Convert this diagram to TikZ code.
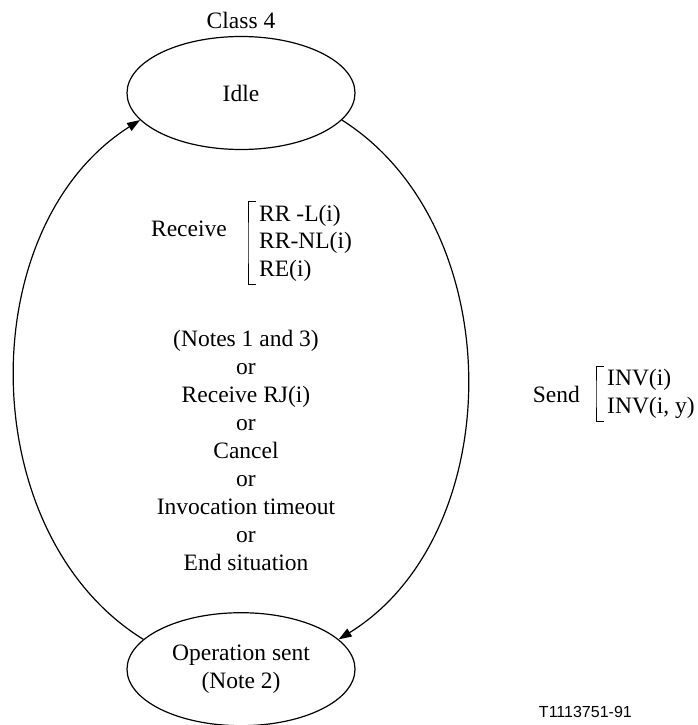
\documentclass[tikz,border=0pt]{standalone}
\usepackage{fontspec}
\setmainfont{Liberation Serif}
\newfontfamily\tagfont{Liberation Sans}
\usetikzlibrary{positioning,arrows.meta,shapes.geometric}

\begin{document}
\begin{tikzpicture}
      [ x=1pt, y=-1pt,
        >={Triangle[length=13pt,width=9pt]},
        every node/.style={font=\fontsize{23.5}{27.6}\selectfont},
        state/.style={ellipse, draw, line width=1.2pt,
                      minimum width=228pt, minimum height=113pt, inner sep=0pt},
        txt/.style={inner sep=0pt},
        bracket/.style={line width=0.8pt},
        trans/.style={->, line width=1.2pt}
      ]
      \useasboundingbox (0,0) rectangle (697,725);

      \node[state]            (idle)   at (241,93)             {Idle};
      \node[state,align=center] (sent) [below=462pt of idle]   {Operation sent\\(Note 2)};
      \node[txt]              (class)  [above=7pt of idle]     {Class 4};

      % receive conditions inside the loop
      \node[txt,align=left,anchor=west] (rlist) at (259,243) {RR -L(i)\\RR-NL(i)\\RE(i)};
      \node[txt]              (recv)   [left=32pt of rlist, yshift=14pt] {Receive};
      \node[txt,align=center,font=\fontsize{23.5}{28}\selectfont]
                              (notes)  at (246,450)
            {(Notes 1 and 3)\\or\\Receive RJ(i)\\or\\Cancel\\or\\Invocation timeout\\or\\End situation};

      % send primitives outside the loop
      \node[txt,align=left,anchor=west] (slist) at (607,394) {INV(i)\\INV(i, y)};
      \node[txt]              (send)   [left=27pt of slist]    {Send};

      \node[txt,anchor=east,font=\tagfont\fontsize{16}{19}\selectfont]
                              (fig)    at (632,712)            {T1113751-91};

      \draw[bracket] ([xshift=-3pt,yshift=3pt]rlist.north west) -| ([xshift=-11pt]rlist.west)
                     |- ([xshift=-3pt,yshift=-3pt]rlist.south west);
      \draw[bracket] ([xshift=-3pt,yshift=3pt]slist.north west) -| ([xshift=-11pt]slist.west)
                     |- ([xshift=-3pt,yshift=-3pt]slist.south west);

      \draw[trans] (sent.163) .. controls +(-170,-105) and +(-169,107) .. (idle.195);
      \draw[trans] (idle.-15) .. controls +(169,107) and +(170,-105) .. (sent.17);
    \end{tikzpicture}
\end{document}
